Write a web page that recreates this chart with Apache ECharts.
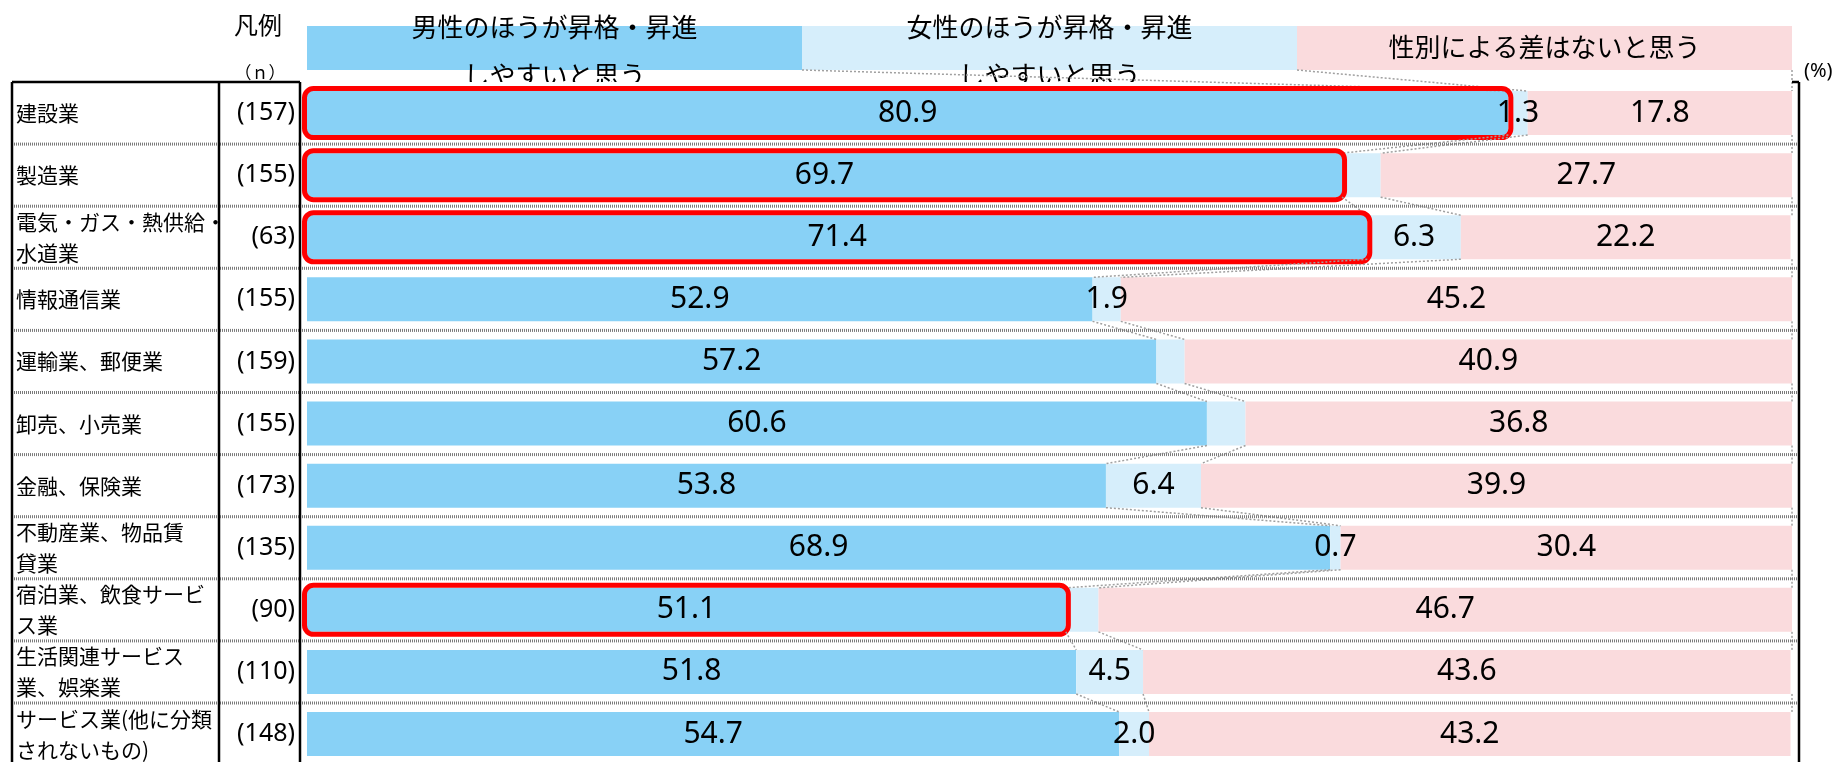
<!DOCTYPE html>
<html>
<head>
<meta charset="utf-8">
<script src="https://cdn.jsdelivr.net/npm/echarts@6/dist/echarts.min.js"></script>
<style>
html, body { margin: 0; padding: 0; background: #fff; }
#chart { width: 1837px; height: 762px; }
</style>
</head>
<body>
<div id="chart"></div>
<script>
// 業種別：昇格・昇進のしやすさ（%）
const categories = [
    '建設業',
    '製造業',
    '電気・ガス・熱供給・\n水道業',
    '情報通信業',
    '運輸業、郵便業',
    '卸売、小売業',
    '金融、保険業',
    '不動産業、物品賃\n貸業',
    '宿泊業、飲食サービ\nス業',
    '生活関連サービス\n業、娯楽業',
    'サービス業(他に分類\nされないもの)'
];
const sampleSizes = [157, 155, 63, 155, 159, 155, 173, 135, 90, 110, 148];
const maleEasier = [80.9, 69.7, 71.4, 52.9, 57.2, 60.6, 53.8, 68.9, 51.1, 51.8, 54.7];
const femaleEasier = [1.3, 2.6, 6.3, 1.9, 1.9, 2.6, 6.4, 0.7, 2.2, 4.5, 2.0];
const noDifference = [17.8, 27.7, 22.2, 45.2, 40.9, 36.8, 39.9, 30.4, 46.7, 43.6, 43.2];
const legendNames = [
    '男性のほうが昇格・昇進\nしやすいと思う',
    '女性のほうが昇格・昇進\nしやすいと思う',
    '性別による差はないと思う'
];
// 赤枠で囲む行 / 数値を出さない中間ラベル
const highlighted = [0, 1, 2, 8];
const hiddenMidLabel = [1, 4, 5, 8];

const colors = ['#88d1f6', '#d6eefb', '#fadbdd'];
const JP = '"Noto Sans CJK JP", sans-serif';
const NUM = '"Noto Sans", sans-serif';

const GRID_LEFT = 307, GRID_W = 1485, GRID_TOP = 82, ROW_H = 62.1, BAR_H = 44;
const TABLE_L = 12, COL1 = 219, COL2 = 300, TABLE_R = 1799;
const LEGEND_TOP = 26;

var chart = echarts.init(document.getElementById('chart'));

function renderOverlay(params, api) {
    var i = params.dataIndex;
    var x = function (v) { return api.coord([v, i])[0]; };
    var top = api.coord([0, i])[1] - BAR_H / 2;
    var cur = [maleEasier[i], maleEasier[i] + femaleEasier[i], 100];
    var prev, prevBottom;
    if (i === 0) {
        prev = [100 / 3, 200 / 3, 100];
        prevBottom = LEGEND_TOP + BAR_H;
    } else {
        prev = [maleEasier[i - 1], maleEasier[i - 1] + femaleEasier[i - 1], 100];
        prevBottom = api.coord([0, i - 1])[1] + BAR_H / 2;
    }
    var children = [];
    for (var k = 0; k < 3; k++) {
        children.push({
            type: 'line',
            shape: { x1: x(prev[k]), y1: prevBottom, x2: x(cur[k]), y2: top },
            style: { stroke: '#a0a0a0', lineWidth: 1.5, lineDash: [2, 2] }
        });
    }
    if (highlighted.indexOf(i) >= 0) {
        children.push({
            type: 'rect',
            shape: { x: x(0) - 2.5, y: top - 2.5, width: x(maleEasier[i]) - x(0) + 5, height: BAR_H + 5, r: 9 },
            style: { fill: 'none', stroke: '#ff0000', lineWidth: 5 }
        });
    }
    return { type: 'group', children: children };
}

function barSeries(name, values, idx) {
    return {
        name: name,
        type: 'bar',
        stack: 'total',
        barWidth: BAR_H,
        data: values,
        itemStyle: { color: colors[idx] },
        silent: true,
        label: {
            show: true,
            position: 'inside',
            color: '#000',
            fontSize: 30,
            fontFamily: NUM,
            formatter: function (p) {
                if (idx === 1 && hiddenMidLabel.indexOf(p.dataIndex) >= 0) return '';
                return p.value.toFixed(1);
            }
        }
    };
}

// 表の罫線・凡例
var graphics = [];
var segW = GRID_W / 3;
legendNames.forEach(function (name, k) {
    graphics.push({
        type: 'rect', z: 0,
        shape: { x: GRID_LEFT + k * segW, y: LEGEND_TOP, width: segW, height: BAR_H },
        style: { fill: colors[k] }
    });
    graphics.push({
        type: 'text', z: 0,
        x: GRID_LEFT + (k + 0.5) * segW,
        y: k < 2 ? 51 : 47,
        style: {
            text: name, fill: '#000', font: '26px ' + JP,
            align: 'center', verticalAlign: 'middle', lineHeight: 48
        }
    });
});
graphics.push({
    type: 'rect', z: 1,
    shape: { x: COL2 + 2, y: GRID_TOP, width: TABLE_R - COL2 - 2, height: 762 - GRID_TOP },
    style: { fill: '#fff' }
});
graphics.push({
    type: 'text', z: 1, x: 258, y: 25,
    style: { text: '凡例', fill: '#000', font: '24px ' + JP, align: 'center', verticalAlign: 'middle' }
});
graphics.push({
    type: 'text', z: 1, x: 260, y: 73,
    style: { text: '（ｎ）', fill: '#000', font: '17px ' + JP, align: 'center', verticalAlign: 'middle' }
});
graphics.push({
    type: 'text', z: 1, x: 1804, y: 71,
    style: { text: '(%)', fill: '#000', font: '20px ' + NUM, align: 'left', verticalAlign: 'middle' }
});
for (var r = 1; r < categories.length; r++) {
    var yy = GRID_TOP + r * ROW_H;
    graphics.push({
        type: 'line', z: 9,
        shape: { x1: TABLE_L, y1: yy, x2: TABLE_R, y2: yy },
        style: { stroke: '#7a7a7a', lineWidth: 3, lineDash: [1, 1] }
    });
}
[TABLE_L, COL1, COL2, TABLE_R].forEach(function (xx) {
    graphics.push({
        type: 'line', z: 10,
        shape: { x1: xx, y1: GRID_TOP, x2: xx, y2: 762 },
        style: { stroke: '#000', lineWidth: 2.5 }
    });
});
graphics.push({
    type: 'line', z: 10,
    shape: { x1: TABLE_L, y1: GRID_TOP, x2: COL2, y2: GRID_TOP },
    style: { stroke: '#000', lineWidth: 2.5 }
});
graphics.push({
    type: 'line', z: 10,
    shape: { x1: GRID_LEFT + GRID_W, y1: GRID_TOP, x2: TABLE_R, y2: GRID_TOP },
    style: { stroke: '#000', lineWidth: 2.5 }
});

var option = {
    animation: false,
    backgroundColor: '#fff',
    grid: { left: GRID_LEFT, width: GRID_W, top: GRID_TOP, height: ROW_H * categories.length, outerBoundsMode: 'none' },
    xAxis: { type: 'value', min: 0, max: 100, show: false },
    yAxis: [
        {
            type: 'category', data: categories, inverse: true,
            axisLine: { show: false }, axisTick: { show: false },
            axisLabel: {
                interval: 0, align: 'left', margin: GRID_LEFT - 16,
                color: '#000', fontSize: 21, fontFamily: JP, lineHeight: 31
            }
        },
        {
            type: 'category', data: sampleSizes.map(function (n) { return '(' + n + ')'; }),
            inverse: true, position: 'left',
            axisLine: { show: false }, axisTick: { show: false },
            axisLabel: {
                interval: 0, align: 'right', margin: GRID_LEFT - 295,
                color: '#000', fontSize: 25, fontFamily: NUM
            }
        }
    ],
    graphic: graphics,
    series: [
        barSeries('男性のほうが昇格・昇進しやすいと思う', maleEasier, 0),
        barSeries('女性のほうが昇格・昇進しやすいと思う', femaleEasier, 1),
        barSeries('性別による差はないと思う', noDifference, 2),
        {
            type: 'custom',
            z: 5,
            clip: false,
            silent: true,
            renderItem: renderOverlay,
            data: categories.map(function (c, i) { return [0, i]; })
        }
    ]
};

option && chart.setOption(option);
</script>
</body>
</html>
